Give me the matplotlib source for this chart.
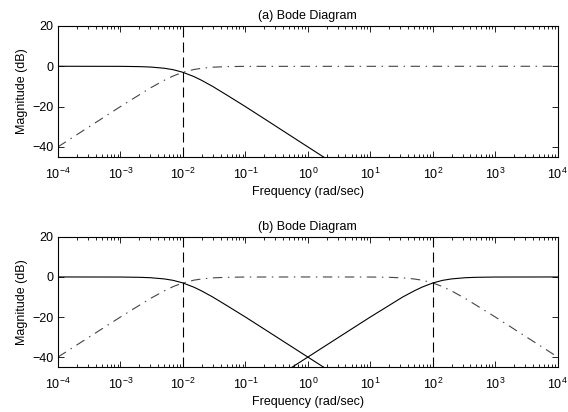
import numpy as np
import matplotlib
matplotlib.use('Agg')
import matplotlib.pyplot as plt
from matplotlib.ticker import LogLocator, FixedLocator

plt.rcParams['font.family'] = ['Liberation Sans', 'DejaVu Sans']
plt.rcParams['mathtext.fontset'] = 'custom'
plt.rcParams['mathtext.rm'] = 'Liberation Sans'
plt.rcParams['mathtext.default'] = 'regular'
plt.rcParams['font.size'] = 9

# (a) low-pass, corner at 1e-2 rad/s (solid)
w_lp = [1e-4, 1e-3, 2e-3, 3e-3, 5e-3, 7e-3, 1e-2, 1.5e-2, 2e-2, 3e-2, 5e-2, 1e-1, 2e-1, 1e0, 2e0]
mag_lp = [0.0, -0.04, -0.17, -0.37, -0.97, -1.7, -3.0, -5.1, -7.0, -10.0, -14.2, -20.0, -26.0, -40.0, -46.0]

# (a) high-pass, corner at 1e-2 rad/s (dash-dot)
w_hp = [1e-4, 1e-3, 2e-3, 3e-3, 5e-3, 7e-3, 1e-2, 1.5e-2, 2e-2, 3e-2, 5e-2, 1e-1, 1e4]
mag_hp = [-40.0, -20.0, -14.2, -10.8, -7.0, -4.8, -3.0, -1.6, -1.0, -0.46, -0.17, -0.04, 0.0]

# (b) high-pass, corner at 1e2 rad/s (solid)
w_hp2 = [0.5, 1, 5, 10, 20, 33, 50, 67, 100, 143, 200, 333, 500, 1000, 1e4]
mag_hp2 = [-46.0, -40.0, -26.0, -20.0, -14.2, -10.0, -7.0, -5.1, -3.0, -1.7, -0.97, -0.37, -0.17, -0.04, 0.0]

# (b) band-pass, corners at 1e-2 and 1e2 rad/s (dash-dot)
w_bp = [1e-4, 1e-3, 2e-3, 3e-3, 5e-3, 7e-3, 1e-2, 1.5e-2, 2e-2, 3e-2, 5e-2, 1e-1, 1e0,
        10, 20, 33, 50, 67, 100, 143, 200, 333, 500, 1000, 1e4]
mag_bp = [-40.0, -20.0, -14.2, -10.8, -7.0, -4.8, -3.0, -1.6, -1.0, -0.46, -0.17, -0.04, 0.0,
          -0.04, -0.17, -0.46, -1.0, -1.6, -3.0, -4.8, -7.0, -10.8, -14.2, -20.0, -40.0]

corners_a = [1e-2]
corners_b = [1e-2, 1e2]

x_ticks = [1e-4, 1e-3, 1e-2, 1e-1, 1e0, 1e1, 1e2, 1e3, 1e4]
y_ticks = [-40, -20, 0, 20]

dashdot = (0, (8.5, 5.0, 1.3, 5.0))
dashed = (0, (9, 4.5))

fig = plt.figure(figsize=(5.68, 4.12), dpi=100)
ax1 = fig.add_axes([0.102, 0.619, 0.880, 0.318])
ax2 = fig.add_axes([0.102, 0.109, 0.880, 0.316])


def style_axis(ax, title):
    ax.set_xscale('log')
    ax.set_xlim(x_ticks[0], x_ticks[-1])
    ax.set_ylim(-45, 20)
    ax.xaxis.set_major_locator(FixedLocator(x_ticks))
    ax.xaxis.set_minor_locator(LogLocator(base=10, subs=np.arange(2, 10), numticks=20))
    ax.yaxis.set_major_locator(FixedLocator(y_ticks))
    ax.tick_params(which='both', direction='in', top=True, right=True, width=0.6)
    ax.tick_params(axis='y', which='major', length=4, pad=3)
    ax.tick_params(axis='x', which='major', length=4, pad=7)
    ax.tick_params(which='minor', length=2)
    ax.tick_params(axis='y', which='minor', left=False, right=False)
    for s in ax.spines.values():
        s.set_linewidth(0.8)
    ax.set_title(title, fontsize=9, pad=5)
    ax.set_xlabel('Frequency (rad/sec)', labelpad=3)
    ax.set_ylabel('Magnitude (dB)', labelpad=3)


ax1.plot(w_lp, mag_lp, color='black', lw=0.8)
ax1.plot(w_hp, mag_hp, color='#444444', lw=0.8, linestyle=dashdot)
for c in corners_a:
    ax1.axvline(c, color='black', lw=0.8, linestyle=dashed)
style_axis(ax1, '(a) Bode Diagram')

ax2.plot(w_lp, mag_lp, color='black', lw=0.8)
ax2.plot(w_hp2, mag_hp2, color='black', lw=0.8)
ax2.plot(w_bp, mag_bp, color='#444444', lw=0.8, linestyle=dashdot)
for c in corners_b:
    ax2.axvline(c, color='black', lw=0.8, linestyle=dashed)
style_axis(ax2, '(b) Bode Diagram')

fig.savefig('out.png', dpi=100)
